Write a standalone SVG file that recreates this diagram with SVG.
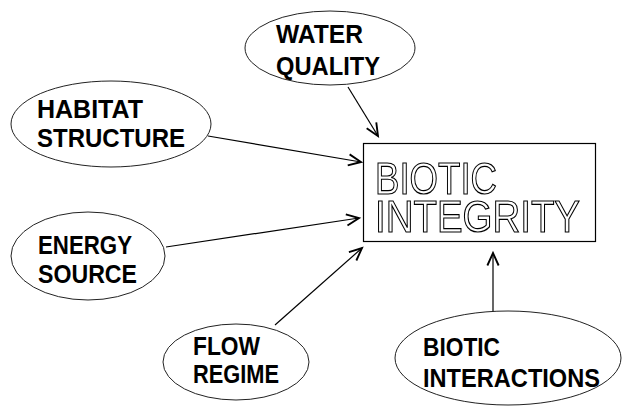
<svg xmlns="http://www.w3.org/2000/svg" width="625" height="406" viewBox="0 0 625 406">
<defs>
<style>
.node ellipse{fill:#fff;stroke:#222;stroke-width:1}
.lbl{font-family:"Liberation Sans",Arial,sans-serif;font-weight:bold;font-size:26px;fill:#000}
.big{font-family:"Liberation Sans",Arial,sans-serif;font-size:45px;fill:#fff;stroke:#000;stroke-width:1.2}
.conn line{stroke:#000;stroke-width:1.2}
</style>
<marker id="arr" markerUnits="userSpaceOnUse" markerWidth="20" markerHeight="20" refX="0" refY="0" viewBox="-12 -8 14 16" orient="auto" overflow="visible">
<path d="M-10,-4.5 L0,0 L-10,4.5" fill="none" stroke="#000" stroke-width="1.5"/>
</marker>
<filter id="gray" x="0" y="0" width="1" height="1" color-interpolation-filters="sRGB">
<feColorMatrix type="saturate" values="0"/>
</filter>
</defs>
<rect width="625" height="406" fill="#fff"/>
<g id="connectors" class="conn">
<line x1="348" y1="87" x2="378" y2="136" marker-end="url(#arr)"/>
<line x1="208" y1="136" x2="361" y2="162" marker-end="url(#arr)"/>
<line x1="166" y1="247" x2="359" y2="218" marker-end="url(#arr)"/>
<line x1="275" y1="325" x2="362" y2="248" marker-end="url(#arr)"/>
<line x1="493" y1="312" x2="493" y2="253" marker-end="url(#arr)"/>
</g>
<g id="water-quality" class="node">
<ellipse cx="330" cy="48" rx="85" ry="37"/>
<text class="lbl" x="276" y="43" textLength="87" lengthAdjust="spacingAndGlyphs">WATER</text>
<text class="lbl" x="276" y="75" textLength="104" lengthAdjust="spacingAndGlyphs">QUALITY</text>
</g>
<g id="habitat-structure" class="node">
<ellipse cx="111" cy="124" rx="100" ry="43"/>
<text class="lbl" x="37" y="118" textLength="106" lengthAdjust="spacingAndGlyphs">HABITAT</text>
<text class="lbl" x="37" y="147" textLength="148" lengthAdjust="spacingAndGlyphs">STRUCTURE</text>
</g>
<g id="energy-source" class="node">
<ellipse cx="88" cy="256" rx="77" ry="44"/>
<text class="lbl" x="38" y="254" textLength="94" lengthAdjust="spacingAndGlyphs">ENERGY</text>
<text class="lbl" x="38" y="283" textLength="99" lengthAdjust="spacingAndGlyphs">SOURCE</text>
</g>
<g id="flow-regime" class="node">
<ellipse cx="236" cy="362" rx="73" ry="38"/>
<text class="lbl" x="193" y="355" textLength="67" lengthAdjust="spacingAndGlyphs">FLOW</text>
<text class="lbl" x="193" y="383" textLength="86" lengthAdjust="spacingAndGlyphs">REGIME</text>
</g>
<g id="biotic-interactions" class="node">
<ellipse cx="508" cy="358" rx="113" ry="47"/>
<text class="lbl" x="423" y="356" textLength="77" lengthAdjust="spacingAndGlyphs">BIOTIC</text>
<text class="lbl" x="423" y="387" textLength="177" lengthAdjust="spacingAndGlyphs">INTERACTIONS</text>
</g>
<g id="biotic-integrity">
<rect x="363.5" y="143.5" width="232" height="98" fill="#fff" stroke="#000" stroke-width="1.2"/>
<g filter="url(#gray)">
<rect x="366" y="146" width="227" height="93" fill="#fff"/>
<text class="big"><tspan x="375" y="194" textLength="122" lengthAdjust="spacingAndGlyphs">BIOTIC</tspan><tspan x="375" y="232" textLength="205" lengthAdjust="spacingAndGlyphs">INTEGRITY</tspan></text>
</g>
</g>
</svg>
